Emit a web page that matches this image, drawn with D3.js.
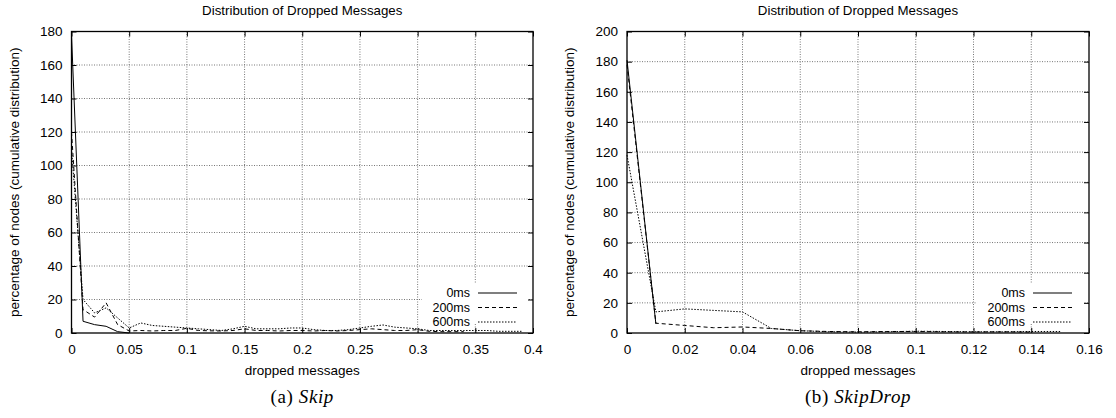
<!DOCTYPE html>
<html><head><meta charset="utf-8">
<script src="https://cdn.jsdelivr.net/npm/d3@7"></script>
<style>
body{margin:0;background:#fff;}
svg{display:block;}
text{font-family:"Liberation Sans",Arial,Helvetica,sans-serif;fill:#000;}
.cap{font-family:"Liberation Serif","Times New Roman",serif;}
</style></head><body>
<svg id="c" width="1116" height="418"></svg>
<script>
// ---------- data ----------
const seriesNames = ["0ms", "200ms", "600ms"];

// (a) Skip
const skipTicksX = [0, 0.05, 0.1, 0.15, 0.2, 0.25, 0.3, 0.35, 0.4];
const skipTicksY = [0, 20, 40, 60, 80, 100, 120, 140, 160, 180];
const skip0msX = [0, 0.01, 0.02, 0.03, 0.04, 0.05];
const skip0msY = [178, 7, 5, 4, 0.8, 0];
const skip200msX = [0,0.01,0.02,0.03,0.04,0.05,0.06,0.07,0.08,0.09,0.10,0.11,0.12,0.13,0.14,0.15,0.16,0.17,0.18,0.19,0.20,0.21,0.22,0.23,0.24,0.25,0.26,0.27,0.28,0.29,0.30,0.31,0.32,0.33,0.34];
const skip200msY = [120,14,9.5,18,5,1.2,1.5,1.2,1.5,1.5,2.8,1.5,1.3,1.2,1.5,2.5,1.5,1.5,1.2,1.5,1.5,1.2,1.5,1.2,1.5,2,2.5,2,1.5,1.5,2,1,0.8,0.8,0.8];
const skip600msX = [0,0.01,0.02,0.03,0.04,0.05,0.06,0.07,0.08,0.09,0.10,0.11,0.12,0.13,0.14,0.15,0.16,0.17,0.18,0.19,0.20,0.21,0.22,0.23,0.24,0.25,0.26,0.27,0.28,0.29,0.30,0.31,0.32,0.33,0.34,0.35,0.36,0.37,0.38,0.39];
const skip600msY = [110,20,12,15,9,3,6,4.5,4,3.5,3,2.5,2,1.5,2.5,4,2.5,2.5,2.5,3,3,2,1.5,1.5,2,3,4,4.8,3.5,3,2.5,1.5,1.5,1.5,1.5,1.5,1.5,1,1,1];

// (b) SkipDrop
const sdTicksX = [0, 0.02, 0.04, 0.06, 0.08, 0.1, 0.12, 0.14, 0.16];
const sdTicksY = [0, 20, 40, 60, 80, 100, 120, 140, 160, 180, 200];
const sd0msX = [0, 0.01];
const sd0msY = [181, 6];
const sd200msX = [0,0.01,0.02,0.03,0.04,0.05,0.06,0.07,0.08,0.09,0.10,0.11,0.12,0.13,0.14];
const sd200msY = [178,6.5,5,3.5,4,3,1.5,1,0.8,1,1,0.8,0.7,0.8,0.6];
const sd600msX = [0,0.01,0.02,0.03,0.04,0.05,0.06,0.07,0.08,0.09,0.10,0.11,0.12,0.13,0.14,0.15];
const sd600msY = [118,14,16,15,14,3,1.5,0.8,0.6,0.8,1.2,1,0.8,0.8,1,1];

const titleText = "Distribution of Dropped Messages";
const xLabelText = "dropped messages";
const yLabelText = "percentage of nodes (cumulative distribution)";

// ---------- drawing ----------
const svg = d3.select("#c");
const dashes = [null, "4,3", "1.5,1.5"];

function panel(o) {
  const x = d3.scaleLinear().domain([o.ticksX[0], o.ticksX[o.ticksX.length-1]]).range([o.left, o.right]);
  const y = d3.scaleLinear().domain([o.ticksY[0], o.ticksY[o.ticksY.length-1]]).range([o.bottom, o.top]);
  const g = svg.append("g");
  const cx = (o.left + o.right) / 2;

  // grid
  g.selectAll(".gx").data(o.ticksX.slice(1, -1)).join("line")
    .attr("x1", d => x(d)).attr("x2", d => x(d)).attr("y1", o.top).attr("y2", o.bottom)
    .attr("stroke", "#777").attr("stroke-width", 1).attr("stroke-dasharray", "1,1.5");
  g.selectAll(".gy").data(o.ticksY.slice(1, -1)).join("line")
    .attr("y1", d => y(d)).attr("y2", d => y(d)).attr("x1", o.left).attr("x2", o.right)
    .attr("stroke", "#777").attr("stroke-width", 1).attr("stroke-dasharray", "1,1.5");

  // legend background
  g.append("rect").attr("x", o.legX - 48).attr("y", o.legY - 9).attr("width", o.right - o.legX + 43).attr("height", 40)
    .attr("fill", "#fff");

  // axes via d3 axes (inward ticks), plus mirrored
  const ax = d3.axisBottom(x).tickValues(o.ticksX).tickSize(-5).tickPadding(11).tickFormat(d3.format("~g"));
  g.append("g").attr("transform", `translate(0,${o.bottom})`).call(ax);
  const ay = d3.axisLeft(y).tickValues(o.ticksY).tickSize(-5).tickPadding(9).tickFormat(d3.format("~g"));
  g.append("g").attr("transform", `translate(${o.left},0)`).call(ay);
  g.append("g").attr("transform", `translate(0,${o.top})`).call(d3.axisTop(x).tickValues(o.ticksX).tickSize(-5).tickFormat(""));
  g.append("g").attr("transform", `translate(${o.right},0)`).call(d3.axisRight(y).tickValues(o.ticksY).tickSize(-5).tickFormat(""));
  g.selectAll(".domain").remove();
  g.selectAll(".tick line").attr("stroke", "#000");
  g.selectAll(".tick text").style("font-family", '"Liberation Sans",Arial,sans-serif').style("font-size", "13.5px").attr("fill", "#000");

  // series
  const line = d3.line().x(d => x(d[0])).y(d => y(d[1]));
  o.series.forEach((s, i) => {
    const pts = s.x.map((v, k) => [v, s.y[k]]);
    g.append("path").attr("d", line(pts)).attr("fill", "none").attr("stroke", "#000")
      .attr("stroke-width", 1).attr("stroke-dasharray", dashes[i]);
  });

  // border
  g.append("rect").attr("x", o.left).attr("y", o.top).attr("width", o.right - o.left).attr("height", o.bottom - o.top)
    .attr("fill", "none").attr("stroke", "#000").attr("stroke-width", 1.3);

  // legend
  seriesNames.forEach((n, i) => {
    const ly = o.legY + i * 14.5;
    g.append("text").attr("x", o.legX).attr("y", ly).attr("dy", "0.35em").attr("text-anchor", "end")
      .style("font-size", "12.5px").text(n);
    g.append("line").attr("x1", o.legX + 8).attr("x2", o.legX + 47).attr("y1", ly).attr("y2", ly)
      .attr("stroke", i === 0 ? "#555" : "#000").attr("stroke-width", i === 0 ? 1.5 : 1).attr("stroke-dasharray", dashes[i]);
  });

  // texts
  g.append("text").attr("x", cx).attr("y", 15).attr("text-anchor", "middle").style("font-size", "13.3px").text(titleText);
  g.append("text").attr("x", cx).attr("y", 375).attr("text-anchor", "middle").style("font-size", "13.5px").text(xLabelText);
  g.append("text").attr("transform", `translate(${o.left - 53},${(o.top + o.bottom) / 2}) rotate(-90)`)
    .attr("text-anchor", "middle").style("font-size", "13.5px").text(yLabelText);
  const cap = g.append("text").attr("class", "cap").attr("x", cx).attr("y", 403).attr("text-anchor", "middle")
    .style("font-size", "19px").style("letter-spacing", "0.6px");
  cap.append("tspan").text(o.capA + " ");
  cap.append("tspan").style("font-style", "italic").text(o.capB);
}

panel({
  left: 71.5, right: 533, top: 31.5, bottom: 333,
  ticksX: skipTicksX, ticksY: skipTicksY,
  series: [{x: skip0msX, y: skip0msY}, {x: skip200msX, y: skip200msY}, {x: skip600msX, y: skip600msY}],
  legX: 470, legY: 293, capA: "(a)", capB: "Skip"
});
panel({
  left: 627, right: 1089, top: 31.5, bottom: 333,
  ticksX: sdTicksX, ticksY: sdTicksY,
  series: [{x: sd0msX, y: sd0msY}, {x: sd200msX, y: sd200msY}, {x: sd600msX, y: sd600msY}],
  legX: 1025, legY: 293, capA: "(b)", capB: "SkipDrop"
});
</script>
</body></html>
